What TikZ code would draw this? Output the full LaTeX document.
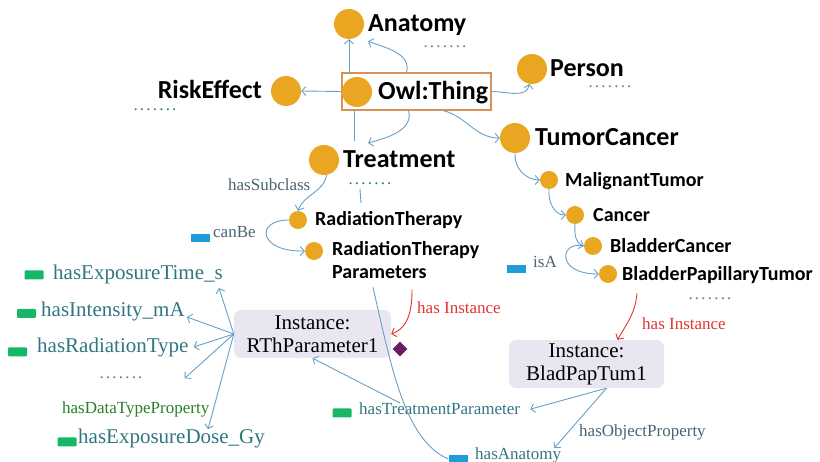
\documentclass[tikz,border=0pt]{standalone}
\usepackage{fontspec}
\setmainfont{Liberation Serif}
\newfontfamily\clsfont{Carlito}
\usetikzlibrary{arrows.meta,shapes.geometric}

\definecolor{ballc}{RGB}{233,166,33}
\definecolor{boxc}{RGB}{214,146,88}
\definecolor{linkc}{RGB}{102,160,200}
\definecolor{instc}{RGB}{234,230,241}
\definecolor{redc}{RGB}{226,52,52}
\definecolor{greenc}{RGB}{22,184,104}
\definecolor{bluec}{RGB}{32,156,216}
\definecolor{tealc}{RGB}{48,118,128}
\definecolor{slatec}{RGB}{72,100,114}
\definecolor{dtgreenc}{RGB}{38,128,40}
\definecolor{markc}{RGB}{108,30,98}
\definecolor{dotgray}{RGB}{120,120,120}

\newcommand{\dotrow}{.\kern2.2pt.\kern2.2pt.\kern2.2pt.\kern2.2pt.\kern2.2pt.\kern2.2pt.}

\begin{document}
\begin{tikzpicture}[x=1pt, y=-1pt,
		bigball/.style={circle, fill=ballc, minimum size=30pt, inner sep=0pt},
		smallball/.style={circle, fill=ballc, minimum size=18pt, inner sep=0pt},
		bigname/.style={anchor=base west, inner sep=0pt, font=\clsfont\bfseries\fontsize{26}{28}\selectfont},
		smallname/.style={anchor=base west, inner sep=0pt, font=\clsfont\bfseries\fontsize{20}{23}\selectfont},
		prop/.style={anchor=base west, inner sep=0pt, text=tealc, font=\fontsize{21}{23}\selectfont},
		rel/.style={anchor=base west, inner sep=0pt, text=slatec, font=\fontsize{17}{19}\selectfont},
		dotsrow/.style={anchor=base, inner sep=0pt, font=\fontsize{17}{19}\selectfont},
		greentag/.style={fill=greenc, rounded corners=1pt, minimum width=19pt, minimum height=9pt, inner sep=0pt},
		bluetag/.style={fill=bluec, minimum width=19pt, minimum height=8pt, inner sep=0pt},
		instbox/.style={fill=instc, rounded corners=7pt, align=center, minimum width=157pt, minimum height=48pt, inner sep=0pt, font=\fontsize{21}{23}\selectfont},
		link/.style={draw=linkc, line width=0.9pt, -{Straight Barb[length=4pt,width=9pt]}},
		wire/.style={draw=linkc, line width=0.9pt},
		inst/.style={draw=redc, line width=0.9pt, -{Straight Barb[length=4pt,width=9pt]}}]
	\useasboundingbox (0,0) rectangle (820,462);

	% class hierarchy
	\node[draw=boxc, line width=1.2pt, minimum width=149pt, minimum height=37pt, inner sep=0pt] (owlbox) at (416.5,91.5) {};
	\node[bigball] (owl) at (357,92) {};
	\node[bigname] (owlname) at (378,100) {Owl:Thing};
	\node[bigball] (anatomy) at (349,24) {};
	\node[bigname] (anatomyname) at (368,32) {Anatomy};
	\node[bigball] (risk) at (286,91) {};
	\node[bigname, anchor=base east] (riskname) at (262,99) {RiskEffect};
	\node[bigball] (person) at (532,69) {};
	\node[bigname] (personname) at (550,77) {Person};
	\node[bigball] (tumor) at (515,138) {};
	\node[bigname] (tumorname) at (535,146) {TumorCancer};
	\node[bigball] (treat) at (324,160) {};
	\node[bigname] (treatname) at (343,168) {Treatment};

	\node[smallball] (radth) at (298,220) {};
	\node[smallname] (radthname) at (315,226) {RadiationTherapy};
	\node[smallball] (rtp) at (314,251) {};
	\node[smallname, align=left] (rtpname) at (332,279) {RadiationTherapy\\Parameters};
	\node[smallball] (malig) at (549,180) {};
	\node[smallname] (maligname) at (565,187) {MalignantTumor};
	\node[smallball] (cancer) at (575,215) {};
	\node[smallname] (cancername) at (593,222) {Cancer};
	\node[smallball] (bladc) at (593,246) {};
	\node[smallname] (bladcname) at (610,253) {BladderCancer};
	\node[smallball] (bpt) at (608,274) {};
	\node[smallname] (bptname) at (622,281) {BladderPapillaryTumor};

	\node[dotsrow, text=dotgray] (anatomydots) at (445,48) {\dotrow};
	\node[dotsrow, text=tealc] (riskdots) at (155,111) {\dotrow};
	\node[dotsrow, text=dotgray] (persondots) at (610,88) {\dotrow};
	\node[dotsrow, text=tealc] (treatdots) at (370,185) {\dotrow};
	\node[dotsrow, text=dotgray] (bptdots) at (710,300) {\dotrow};

	% instances and properties
	\node[instbox] (rthbox) at (312.5,334) {Instance:\\RThParameter1};
	\node[instbox, minimum width=155pt] (bladbox) at (586.5,364) {Instance:\\BladPapTum1};
	\node[diamond, fill=markc, minimum size=15pt, inner sep=0pt] (mark) at (400,349) {};

	\node[greentag] (expTtag) at (34,275) {};
	\node[prop] (expT) at (53,280) {hasExposureTime\_s};
	\node[greentag] (intenstag) at (26.5,313.5) {};
	\node[prop] (intens) at (41,317) {hasIntensity\_mA};
	\node[greentag] (radtypetag) at (17.5,352) {};
	\node[prop] (radtype) at (37,353) {hasRadiationType};
	\node[dotsrow, text=dotgray] (leftdots) at (121,379) {\dotrow};
	\node[rel, text=dtgreenc] (dtprop) at (62,414) {hasDataTypeProperty};
	\node[greentag] (expDtag) at (67,442) {};
	\node[prop] (expD) at (78,444) {hasExposureDose\_Gy};

	\node[rel] (subclass) at (228,191) {hasSubclass};
	\node[bluetag] (canbetag) at (200,238) {};
	\node[rel] (canbe) at (213,238) {canBe};
	\node[bluetag] (isatag) at (516.5,269) {};
	\node[rel] (isa) at (533,268) {isA};
	\node[rel, text=redc] (hasinstA) at (417,314) {has Instance};
	\node[rel, text=redc] (hasinstB) at (642,330) {has Instance};
	\node[greentag] (tptag) at (342,413) {};
	\node[rel, text=tealc] (tp) at (359,415) {hasTreatmentParameter};
	\node[rel] (objprop) at (579,437) {hasObjectProperty};
	\node[bluetag] (anattag) at (458,459) {};
	\node[rel, text=tealc] (anat) at (475,460) {hasAnatomy};

	\coordinate (treatstub) at (354,141);
	\coordinate (treattip) at (368,143);
	\coordinate (stubtop) at (360,189);
	\coordinate (stubbot) at (361,203);

	% connectors
	\draw[link] (owlbox.north -| anatomy) -- (anatomy.south);
	\draw[link] ([xshift=-10pt]owlbox.north) to[out=75, in=-20] ([yshift=-5pt]anatomyname.south west);
	\draw[link] (owlbox.west) -- (risk.east);
	\draw[link] (owlbox.east) to[out=0, in=-100] (person.-100);
	\draw[link] ([xshift=27pt]owlbox.south) to[out=-15, in=180] (tumor.west);
	\draw[wire] (owlbox.south -| treatstub) -- (treatstub);
	\draw[link] ([xshift=-8pt]owlbox.south) to[out=-75, in=15] (treattip);

	\draw[link] (treat.-80) to[out=-100, in=70] (radth.north);
	\draw[wire] (stubtop) -- (stubbot);
	\draw[link] (radth.west) .. controls (255,220) and (258,252) .. (rtp.west);
	\draw[link] (tumor.south) to[out=-95, in=180] (malig.west);
	\draw[link] (malig.south) to[out=-95, in=180] (cancer.west);
	\draw[link] (cancer.south) to[out=-95, in=160] (bladc.west);
	\draw[link] (bladc.west) .. controls (560,240) and (555,274) .. (bpt.west);

	\draw[inst] ([xshift=80pt,yshift=-10pt]rtpname.south west) to[out=-90, in=20] (rthbox.east);
	\draw[wire] ([xshift=41pt,yshift=-8pt]rtpname.south west) .. controls (392,370) and (405,440) .. (anattag.west);
	\draw[inst] ([xshift=15pt,yshift=-9pt]bptname.south west) to[out=-95, in=60] ([xshift=31pt]bladbox.north);

	\draw[link] ([xshift=20pt]bladbox.south) -- ([xshift=10pt]tp.east);
	\draw[link] ([xshift=20pt]bladbox.south) -- ([xshift=-7pt]anat.north east);
	\draw[link] ([xshift=41pt]tp.north west) -- (rthbox.south);

	\draw[link] (rthbox.west) -- ([xshift=-4pt,yshift=-8pt]expT.base east);
	\draw[link] (rthbox.west) -- ([xshift=2pt]intens.base east);
	\draw[link] (rthbox.west) -- ([xshift=5pt,yshift=6pt]radtype.base east);
	\draw[link] (rthbox.west) -- ([xshift=42pt]leftdots.east);
	\draw[link] (rthbox.west) -- ([xshift=130pt]expD.north west);
\end{tikzpicture}
\end{document}
